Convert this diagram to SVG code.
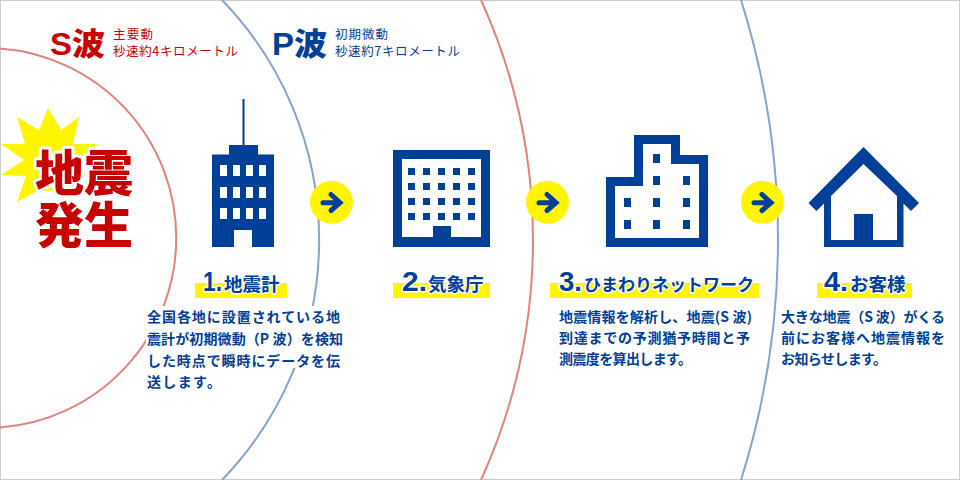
<svg xmlns="http://www.w3.org/2000/svg" width="960" height="480" viewBox="0 0 960 480">
<style>
text{font-family:"Noto Sans CJK JP","Liberation Sans",sans-serif}
.arc{fill:none;stroke-width:2}
.r{stroke:#e58080}.b{stroke:#86a3cf}
.f{fill:#004098}
.big{font-weight:900;font-size:49px;fill:#c80000;stroke:#fff;stroke-width:6px;paint-order:stroke;stroke-linejoin:round}
.wv{font-weight:900;font-size:31px}
.sm{font-size:12.500px}
.ttl{font-weight:700;font-size:18.500px;fill:#004098;stroke:#fff;stroke-width:3px;paint-order:stroke;stroke-linejoin:round}
.num{font-family:"Liberation Sans",sans-serif;font-weight:700;font-size:27px;fill:#004098;stroke:#fff;stroke-width:3px;paint-order:stroke;stroke-linejoin:round}
.bd{font-weight:700;font-size:14px;fill:#004098}
.y{fill:#fff500}
.arw{fill:none;stroke:#004098;stroke-width:5px;stroke-linecap:round;stroke-linejoin:miter}
</style>
<rect x="0.500" y="0.500" width="959" height="479" fill="#fff" stroke="#ccc"/>
<g id="connectors">
<path class="arc r" d="M0 48.500A190 190 0 0 1 0 427.500"/>
<path class="arc b" d="M222 0A345 345 0 0 1 222 480"/>
<path class="arc r" d="M481 0A580 580 0 0 1 481 480"/>
<path class="arc b" d="M741 0A797 797 0 0 1 741 480"/>
</g>
<g id="legend-s">
<text x="50" y="55" class="wv" fill="#c80000" textLength="55" lengthAdjust="spacingAndGlyphs"><tspan font-family="Liberation Sans">S</tspan>波</text>
<text x="113" y="39" class="sm" fill="#c80000" textLength="40">主要動</text>
<text x="113" y="56" class="sm" fill="#c80000" textLength="125">秒速約4キロメートル</text>
</g>
<g id="legend-p">
<text x="272" y="55" class="wv" fill="#004098" textLength="55" lengthAdjust="spacingAndGlyphs"><tspan font-family="Liberation Sans">P</tspan>波</text>
<text x="335" y="39" class="sm" fill="#004098" textLength="53">初期微動</text>
<text x="335" y="56" class="sm" fill="#004098" textLength="125">秒速約7キロメートル</text>
</g>
<g id="quake">
<polygon class="y" points="48,108 61,130 79,117 73,144 98,144 80,158 85,175 60,190 35,192 17,202 26,176 1,175 24,160 1,144 25,144 17,117 39,130"/>
<text x="35" y="191" class="big">地震</text>
<text x="35" y="243" class="big">発生</text>
</g>
<g id="node-1">
<rect class="f" x="242.500" y="99" width="2" height="46"/>
<path class="f" fill-rule="evenodd" d="M229 145h29v9.500h16V247H212V154.500h17zM220 165v11h7v-11zM233 165v11h7v-11zM246 165v11h7v-11zM259 165v11h7v-11zM220 187v11h7v-11zM233 187v11h7v-11zM246 187v11h7v-11zM259 187v11h7v-11zM220 208v11h7v-11zM233 208v11h7v-11zM246 208v11h7v-11zM259 208v11h7v-11zM234 230v17h18v-17z"/>
<rect class="y" x="195" y="283" width="92" height="15"/>
<text x="203" y="291" class="num" textLength="19" lengthAdjust="spacingAndGlyphs">1.</text>
<text x="224" y="291" class="ttl">地震計</text>
<rect x="146" y="306" width="199" height="62" fill="#fff"/>
<text x="147" y="322" class="bd" textLength="193">全国各地に設置されている地</text>
<text x="147" y="344" class="bd" textLength="196">震計が初期微動（P 波）を検知</text>
<text x="147" y="366" class="bd" textLength="193">した時点で瞬時にデータを伝</text>
<text x="147" y="387" class="bd" textLength="74">送します。</text>
</g>
<g id="arrow-1"><circle class="y" cx="331.500" cy="202.300" r="21.500"/><path class="arw" d="M323 202.700H339M331 194.500L340 202.700L331 210.500"/></g>
<g id="node-2">
<path class="f" fill-rule="evenodd" d="M393 150h97v97H393zM402 159v78h31v-11h18v11h30V159z"/>
<path class="f" d="M408 168h7v7h-7zM423 168h7v7h-7zM438 168h7v7h-7zM453 168h7v7h-7zM468 168h7v7h-7zM408 183h7v7h-7zM423 183h7v7h-7zM438 183h7v7h-7zM453 183h7v7h-7zM468 183h7v7h-7zM408 198h7v7h-7zM423 198h7v7h-7zM438 198h7v7h-7zM453 198h7v7h-7zM468 198h7v7h-7zM408 213h7v7h-7zM423 213h7v7h-7zM438 213h7v7h-7zM453 213h7v7h-7zM468 213h7v7h-7z"/>
<rect class="y" x="393" y="283" width="97" height="15"/>
<text x="402" y="291" class="num" textLength="25" lengthAdjust="spacingAndGlyphs">2.</text>
<text x="428" y="291" class="ttl">気象庁</text>
</g>
<g id="arrow-2"><circle class="y" cx="547.500" cy="202.300" r="21.500"/><path class="arw" d="M539 202.700H555M547 194.500L556 202.700L547 210.500"/></g>
<g id="node-3">
<path class="f" fill-rule="evenodd" d="M634 135h46v20h28v92H606V177h28zM643 144v42h-28v52h84v-74h-28v-20z"/>
<path class="f" d="M653 154h7v9h-7zM653 176h7v9h-7zM683 176h7v9h-7zM624 198h7v9h-7zM653 198h7v9h-7zM683 198h7v9h-7zM624 220h7v9h-7zM653 220h7v9h-7zM683 220h7v9h-7z"/>
<rect class="y" x="550" y="283" width="209" height="15"/>
<text x="559" y="291" class="num" textLength="23" lengthAdjust="spacingAndGlyphs">3.</text>
<text x="584" y="291" class="ttl" style="font-size:17px">ひまわりネットワーク</text>
<text x="559" y="322" class="bd" textLength="193">地震情報を解析し、地震(S 波)</text>
<text x="559" y="343" class="bd" textLength="191">到達までの予測猶予時間と予</text>
<text x="559" y="364" class="bd" textLength="133">測震度を算出します。</text>
</g>
<g id="arrow-3"><circle class="y" cx="762.500" cy="202.300" r="21.500"/><path class="arw" d="M754 202.700H770M762 194.500L771 202.700L762 210.500"/></g>
<g id="node-4">
<path class="f" fill-rule="evenodd" d="M863.500 147L919 203l-8 8-7.500-7.500V247H824V203.500L816.500 211l-8-8zM863.500 164L831 196v44h23v-26h19v26h24V196z"/>
<rect class="y" x="817" y="283" width="95" height="15"/>
<text x="824" y="291" class="num" textLength="24" lengthAdjust="spacingAndGlyphs">4.</text>
<text x="850" y="291" class="ttl">お客様</text>
<text x="781" y="322" class="bd" textLength="164">大きな地震（S 波）がくる</text>
<text x="781" y="343" class="bd" textLength="164">前にお客様へ地震情報を</text>
<text x="781" y="364" class="bd" textLength="106">お知らせします。</text>
</g>
</svg>
